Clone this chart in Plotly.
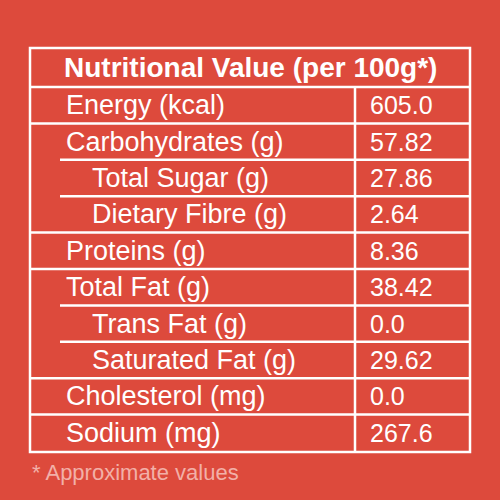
import plotly.graph_objects as go

title = "Nutritional Value (per 100g*)"
labels = ["Energy (kcal)", "Carbohydrates (g)", "Total Sugar (g)", "Dietary Fibre (g)",
          "Proteins (g)", "Total Fat (g)", "Trans Fat (g)", "Saturated Fat (g)",
          "Cholesterol (mg)", "Sodium (mg)"]
values = ["605.0", "57.82", "27.86", "2.64", "8.36", "38.42", "0.0", "29.62", "0.0", "267.6"]
indent = [0, 0, 1, 1, 0, 0, 1, 1, 0, 0]

bg = "#dd4a3c"
fig = go.Figure()
top, head, rowh = 48, 87, 36.4
x0, x1, xd = 30, 470, 355
bottom = head + rowh * len(labels) + 1
shapes = [dict(type="rect", x0=x0, x1=x1, y0=top, y1=bottom,
               line=dict(color="white", width=2.5))]
shapes.append(dict(type="line", x0=x0, x1=x1, y0=head, y1=head, line=dict(color="white", width=2.5)))
shapes.append(dict(type="line", x0=xd, x1=xd, y0=head, y1=bottom,
                   line=dict(color="white", width=2.5)))
ann = [dict(x=250, y=(top + head) / 2, text="<b>" + title + "</b>", showarrow=False,
            font=dict(size=28, color="white", family="Liberation Sans"))]
for i, (lab, val, ind) in enumerate(zip(labels, values, indent)):
    yc = head + rowh * (i + 0.5)
    if i > 0:
        xs = x0 if ind == 0 else 60
        shapes.append(dict(type="line", x0=xs, x1=x1, y0=head + rowh * i, y1=head + rowh * i,
                           line=dict(color="white", width=2.5)))
    ann.append(dict(x=64 + ind * 26, y=yc, text=lab, xanchor="left", showarrow=False,
                    font=dict(size=27, color="white", family="Liberation Sans")))
    ann.append(dict(x=368, y=yc, text=val, xanchor="left", showarrow=False,
                    font=dict(size=25, color="white", family="Liberation Sans")))
ann.append(dict(x=30, y=472, text="* Approximate values", xanchor="left", showarrow=False,
                font=dict(size=22, color="#f2b0a8", family="Liberation Sans")))
fig.update_layout(width=500, height=500, margin=dict(l=0, r=0, t=0, b=0),
                  paper_bgcolor=bg, plot_bgcolor=bg, shapes=shapes, annotations=ann,
                  xaxis=dict(range=[0, 500], visible=False),
                  yaxis=dict(range=[500, 0], visible=False), showlegend=False)
fig.write_html("out.html", config={"displayModeBar": False},
               post_script="document.body.style.margin='0';")
